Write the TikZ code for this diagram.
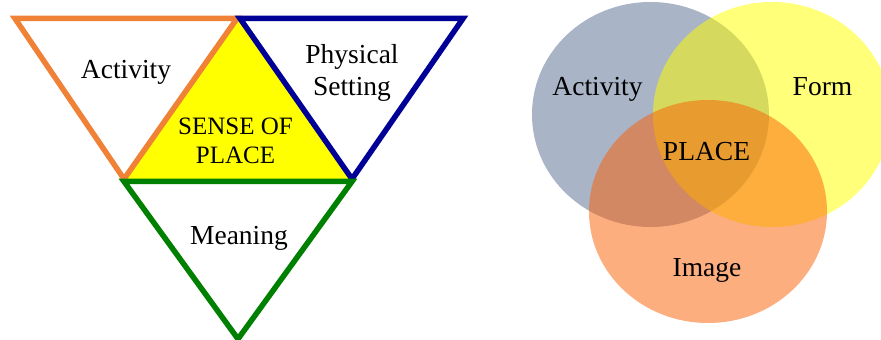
\documentclass[tikz,border=0pt]{standalone}
\usepackage{fontspec}
\setmainfont{Liberation Serif}
\usepackage{tikz}

\definecolor{edgeorange}{RGB}{240,130,55}
\definecolor{edgenavy}{RGB}{0,0,150}
\definecolor{edgegreen}{RGB}{0,128,0}
\definecolor{slate}{RGB}{83,105,143}
\definecolor{sun}{RGB}{255,255,0}
\definecolor{ember}{RGB}{251,93,0}

\begin{document}
\begin{tikzpicture}[x=1pt, y=1pt,
side/.style={line width=5.5pt, line join=miter},
word/.style={font=\fontsize{27.5}{32}\selectfont, inner sep=0pt},
blob/.style={opacity=0.5}]
\useasboundingbox (0,0) rectangle (881,340);

% the four triangles
\coordinate (tl) at (15,321.5);
\coordinate (tm) at (238.5,321.5);
\coordinate (tr) at (463,321.5);
\coordinate (bl) at (124,161);
\coordinate (br) at (352,161);
\coordinate (gl) at (124,158.5);
\coordinate (gr) at (352,158.5);
\coordinate (gb) at (238,1);

\fill[sun] (tm) -- (bl) -- (br) -- cycle;
\draw[side, edgeorange] (tl) -- ([xshift=-1.5pt]tm) -- (bl) -- cycle;
\draw[side, edgenavy] ([xshift=1.5pt]tm) -- (tr) -- (br) -- cycle;
\draw[side, edgegreen] (gl) -- (gr) -- (gb) -- cycle;

\node[word, anchor=base] (act) at (126,261) {Activity};
\node[word, align=center] (phys) at (352,267.4) {Physical\\Setting};
\node[word, align=center, font=\fontsize{25}{29}\selectfont] (sense) at (235.5,199) {SENSE OF\\PLACE};
\node[word, anchor=base] (mean) at (239,95) {Meaning};

% three overlapping circles
\fill[blob, slate] (650.5,225.5) ellipse [x radius=118.5, y radius=112.5];
\fill[blob, sun, opacity=0.52] (772,225.5) ellipse [x radius=119, y radius=112.5];
\fill[blob, ember] (708,128.5) ellipse [x radius=119, y radius=111.5];

\node[word, anchor=base] (vact) at (597.5,244) {Activity};
\node[word, anchor=base] (vform) at (822.5,244) {Form};
\node[word, anchor=base] (vplace) at (706.5,179) {PLACE};
\node[word, anchor=base] (vimage) at (707,63) {Image};
\end{tikzpicture}
\end{document}
